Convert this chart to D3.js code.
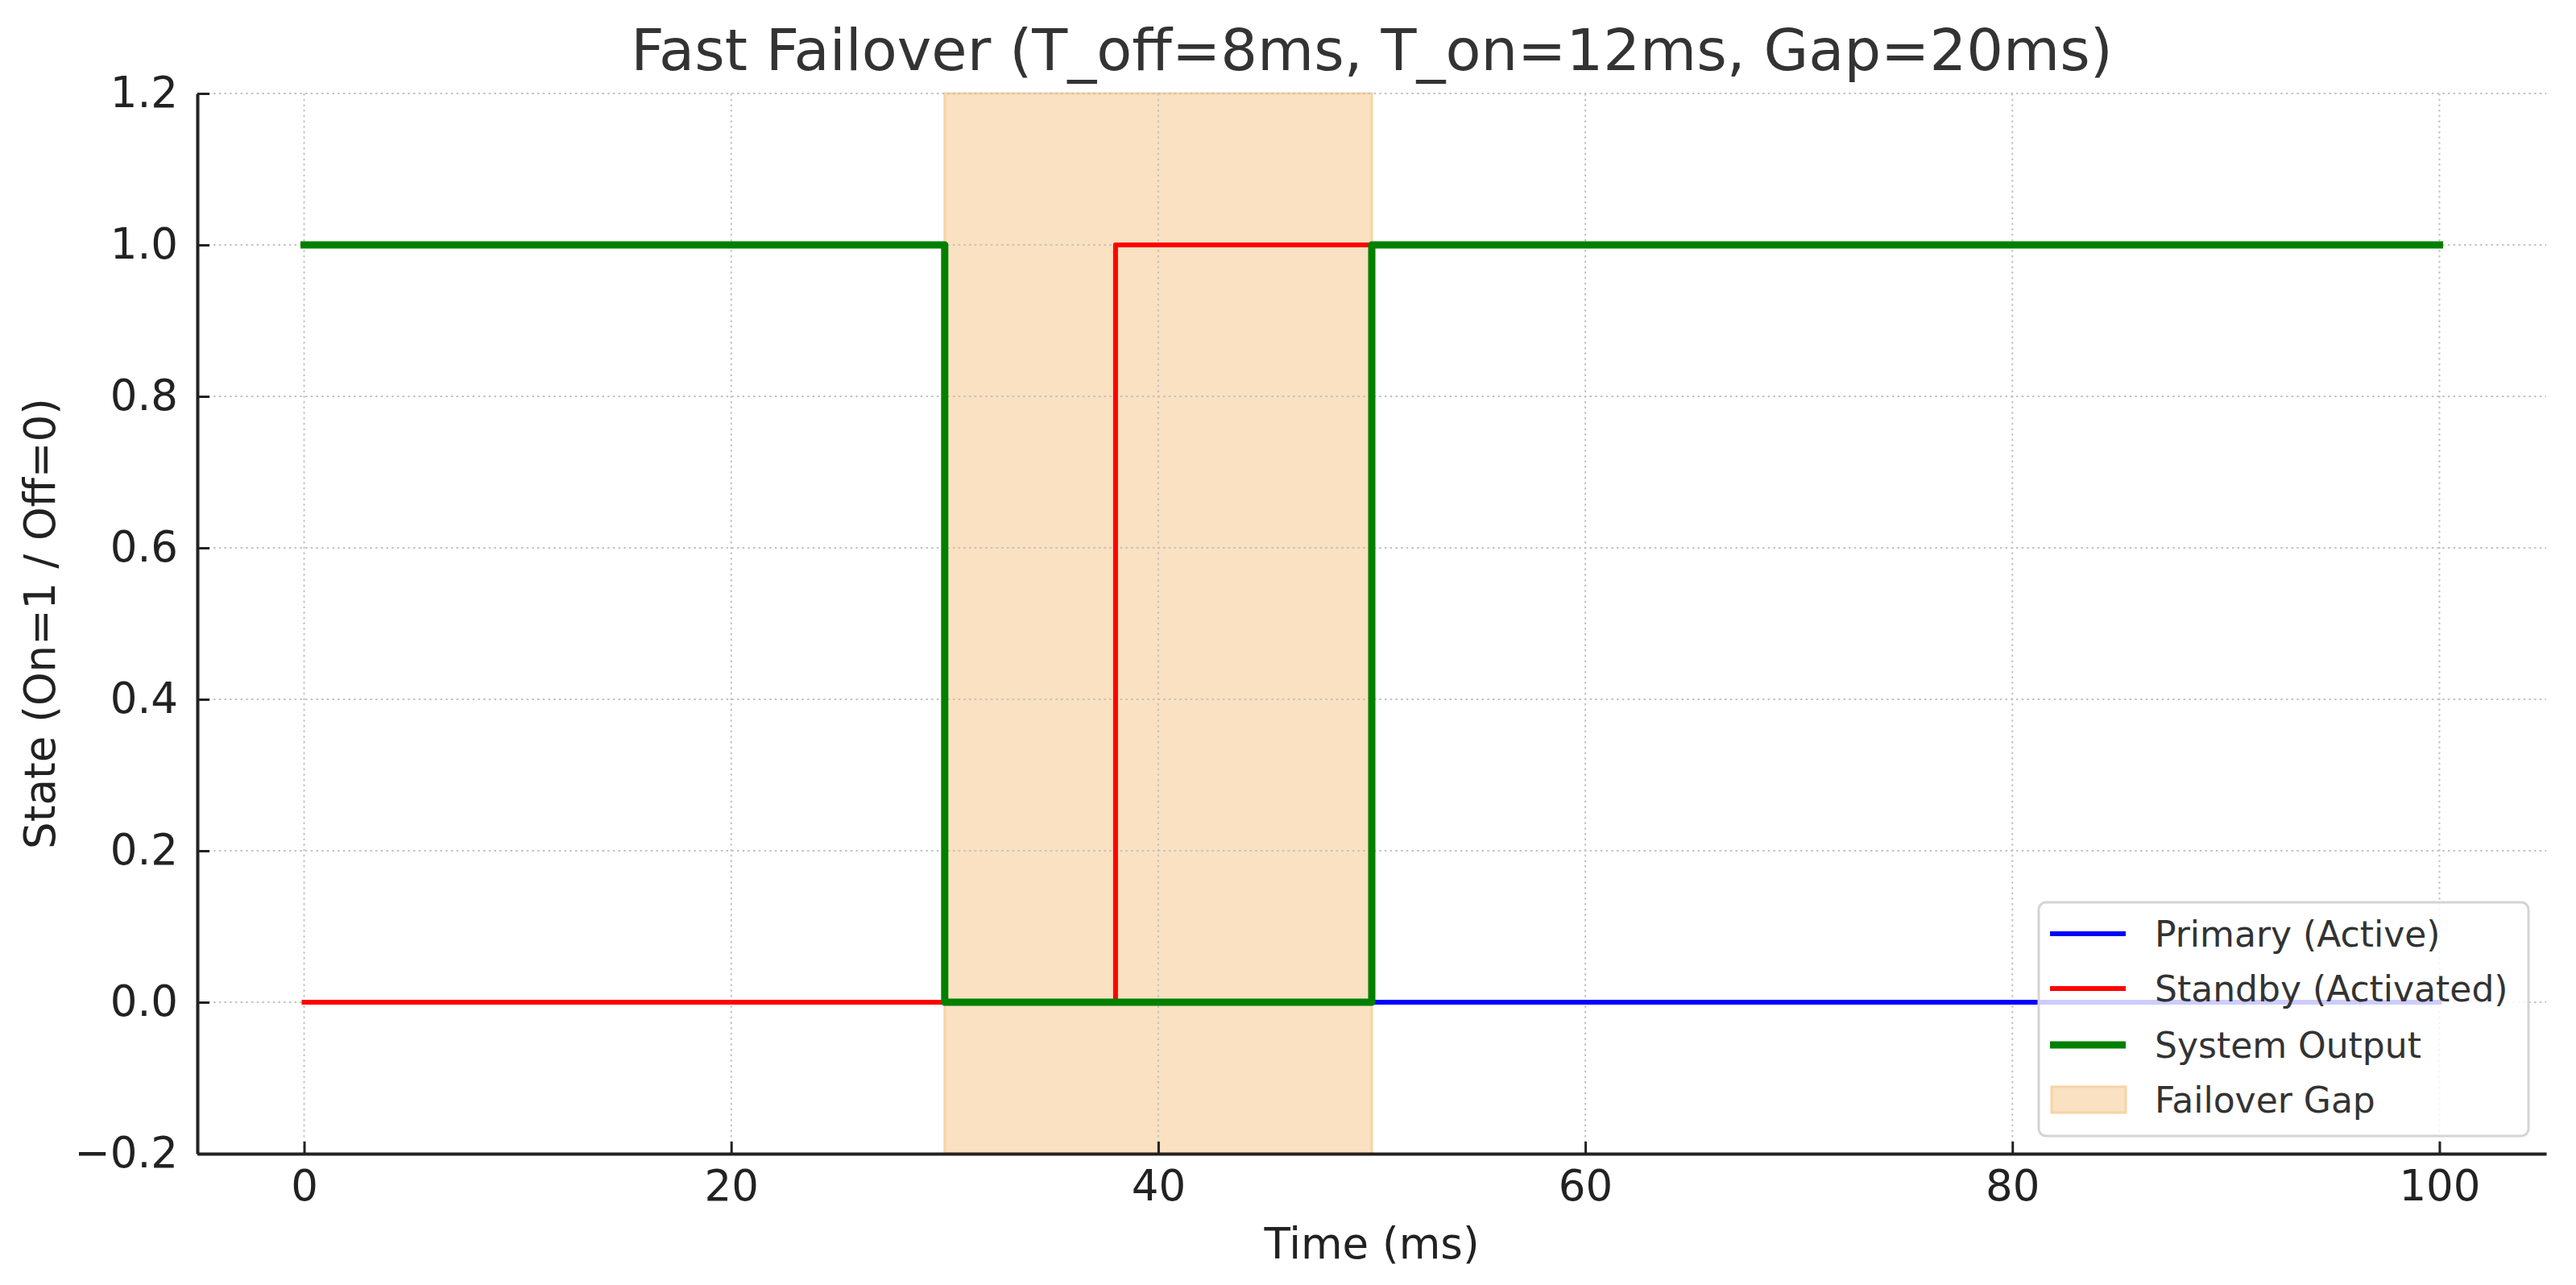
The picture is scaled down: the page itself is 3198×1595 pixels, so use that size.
<!DOCTYPE html>
<html>
<head>
<meta charset="utf-8">
<script src="https://cdn.jsdelivr.net/npm/d3@7"></script>
<style>
    body { margin: 0; background: #fff; }
    text { font-family: "DejaVu Sans", sans-serif; }
</style>
</head>
<body>
<div class="plot"></div>
<script>
// step data (time in ms, state on/off)
var times = [0, 30, 38, 50, 100];
var primary = [1, 0, 0, 0, 0];
var standby = [0, 0, 1, 1, 1];
var output = [1, 0, 0, 1, 1];
var gap = [30, 50];

var xTicks = [0, 20, 40, 60, 80, 100];
var yTicks = [-0.2, 0, 0.2, 0.4, 0.6, 0.8, 1.0, 1.2];

var seriesNames = ["Primary (Active)", "Standby (Activated)", "System Output"];
var seriesColors = ["#0000ff", "#ff0000", "#008000"];
var seriesWidths = [6, 6, 9];

var svgWidth = 3198;
var svgHeight = 1595;

var margin = {
    top: 116,
    right: 37,
    bottom: 163,
    left: 245
};

var height = svgHeight - margin.top - margin.bottom;
var width = svgWidth - margin.left - margin.right;

var svg = d3.select(".plot")
    .append("svg")
    .attr("width", svgWidth)
    .attr("height", svgHeight);

svg.append("rect")
    .attr("width", svgWidth)
    .attr("height", svgHeight)
    .attr("fill", "#fff");

var chartGroup = svg.append("g")
    .attr("transform", `translate(${margin.left}, ${margin.top})`);

// scales (matplotlib style 5% padding on x)
var xScale = d3.scaleLinear()
    .domain([-5, 105])
    .range([0, width]);

var yScale = d3.scaleLinear()
    .domain([-0.2, 1.2])
    .range([height, 0]);

// failover gap span
chartGroup.append("rect")
    .attr("x", xScale(gap[0]))
    .attr("y", 0)
    .attr("width", xScale(gap[1]) - xScale(gap[0]))
    .attr("height", height)
    .attr("fill", "#f9e1c2")
    .attr("stroke", "#f7d4a6")
    .attr("stroke-width", 3);

// grid
var grid = chartGroup.append("g")
    .attr("stroke", "#c2c2c2")
    .attr("stroke-width", 2)
    .attr("stroke-dasharray", "2.5,4.2");

grid.selectAll(".vgrid")
    .data(xTicks)
    .enter()
    .append("line")
    .attr("x1", d => xScale(d))
    .attr("x2", d => xScale(d))
    .attr("y1", 0)
    .attr("y2", height);

grid.selectAll(".hgrid")
    .data(yTicks)
    .enter()
    .append("line")
    .attr("x1", 0)
    .attr("x2", width)
    .attr("y1", d => yScale(d))
    .attr("y2", d => yScale(d));

// step lines
var line = d3.line()
    .x(d => xScale(d[0]))
    .y(d => yScale(d[1]))
    .curve(d3.curveStepAfter);

[primary, standby, output].forEach(function (values, i) {
    chartGroup.append("path")
        .datum(times.map((t, j) => [t, values[j]]))
        .attr("d", line)
        .attr("fill", "none")
        .attr("stroke", seriesColors[i])
        .attr("stroke-width", seriesWidths[i])
        .attr("stroke-linecap", "square")
        .attr("stroke-linejoin", "round");
});

// axes with inward ticks
var fmt = d => d3.format(".1f")(d).replace("-", "\u2212");

var xAxis = d3.axisBottom(xScale)
    .tickValues(xTicks)
    .tickSizeInner(-15)
    .tickSizeOuter(0)
    .tickPadding(20);

var yAxis = d3.axisLeft(yScale)
    .tickValues(yTicks)
    .tickFormat(fmt)
    .tickSizeInner(-15)
    .tickSizeOuter(0)
    .tickPadding(24);

var xg = chartGroup.append("g")
    .attr("transform", `translate(0, ${height})`)
    .call(xAxis);

var yg = chartGroup.append("g")
    .call(yAxis);

[xg, yg].forEach(function (g) {
    g.select(".domain").attr("stroke", "#222").attr("stroke-width", 4);
    g.selectAll(".tick line").attr("stroke", "#222").attr("stroke-width", 3);
    g.selectAll(".tick text")
        .attr("fill", "#222")
        .attr("font-size", "53px")
        .attr("font-family", "DejaVu Sans");
});

// title and labels
svg.append("text")
    .attr("x", margin.left + width / 2)
    .attr("y", 87)
    .attr("text-anchor", "middle")
    .attr("font-size", "72px")
    .attr("fill", "#333")
    .text("Fast Failover (T_off=8ms, T_on=12ms, Gap=20ms)");

svg.append("text")
    .attr("x", margin.left + width / 2)
    .attr("y", 1562)
    .attr("text-anchor", "middle")
    .attr("font-size", "53px")
    .attr("fill", "#222")
    .text("Time (ms)");

svg.append("text")
    .attr("transform", `translate(68, ${margin.top + height / 2}) rotate(-90)`)
    .attr("text-anchor", "middle")
    .attr("font-size", "53px")
    .attr("fill", "#222")
    .text("State (On=1 / Off=0)");

// legend
var legend = svg.append("g")
    .attr("transform", "translate(2531, 1120)");

legend.append("rect")
    .attr("width", 608)
    .attr("height", 290)
    .attr("rx", 9)
    .attr("fill", "#fff")
    .attr("fill-opacity", 0.8)
    .attr("stroke", "#d4d4d4")
    .attr("stroke-width", 3);

var rowY = [39, 107, 177, 245];

seriesNames.forEach(function (name, i) {
    legend.append("line")
        .attr("x1", 14)
        .attr("x2", 108)
        .attr("y1", rowY[i])
        .attr("y2", rowY[i])
        .attr("stroke", seriesColors[i])
        .attr("stroke-width", seriesWidths[i]);
});

legend.append("rect")
    .attr("x", 16)
    .attr("y", rowY[3] - 16)
    .attr("width", 92)
    .attr("height", 32)
    .attr("fill", "#f9e1c2")
    .attr("stroke", "#f7d4a6")
    .attr("stroke-width", 3);

seriesNames.concat(["Failover Gap"]).forEach(function (name, i) {
    legend.append("text")
        .attr("x", 144)
        .attr("y", rowY[i] + 16)
        .attr("font-size", "44px")
        .attr("fill", "#333")
        .text(name);
});
</script>
</body>
</html>
